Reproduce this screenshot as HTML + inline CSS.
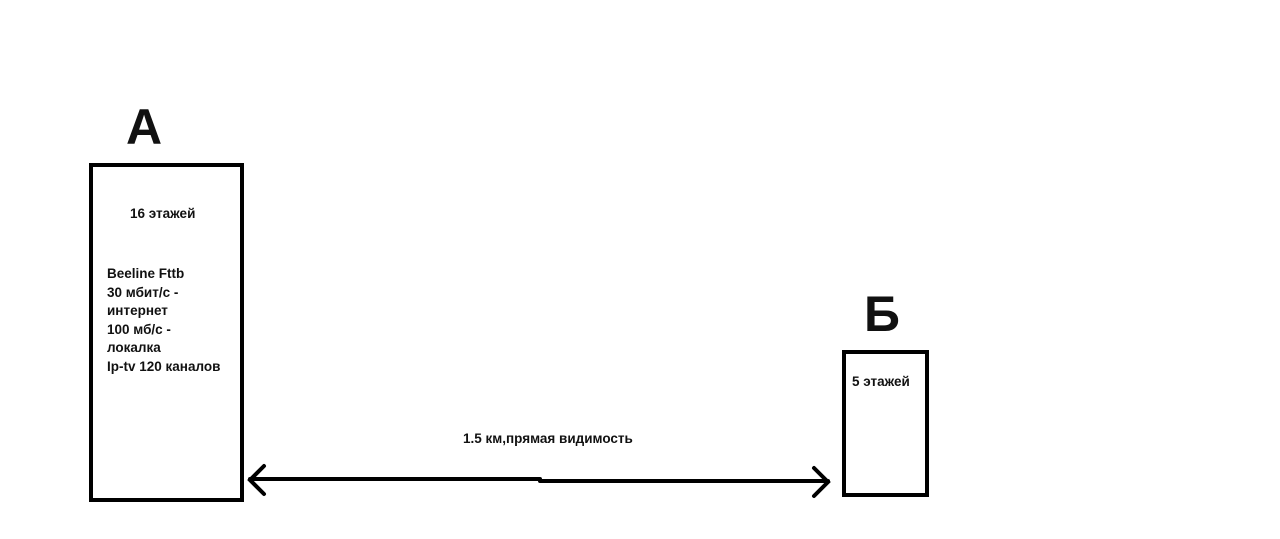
<!DOCTYPE html>
<html><head><meta charset="utf-8"><style>
body{margin:0;width:1280px;height:539px;background:#fff;position:relative;overflow:hidden;font-family:"Liberation Sans","DejaVu Sans",sans-serif;font-weight:bold;color:#111}
.t{position:absolute;font-size:13.5px;white-space:nowrap}
.big{position:absolute;font-size:50px;font-weight:bold;line-height:1}
.box{position:absolute;border:4px solid #000;box-sizing:border-box}
</style></head><body>
<div class="big" style="left:126px;top:102px">А</div>
<div class="big" style="left:864px;top:289px">Б</div>
<div class="box" style="left:89px;top:163px;width:155px;height:339px"></div>
<div class="box" style="left:842px;top:350px;width:87px;height:147px"></div>
<div class="t" style="left:130px;top:206px">16 этажей</div>
<div class="t" style="left:107px;top:265px;line-height:18.5px">Beeline Fttb<br>30 мбит/с -<br>интернет<br>100 мб/с -<br>локалка<br>Ip-tv 120 каналов</div>
<div class="t" style="left:852px;top:374px">5 этажей</div>
<div class="t" style="left:463px;top:431px">1.5 км,прямая видимость</div>
<svg style="position:absolute;left:0;top:0" width="1280" height="539">
<g stroke="#000" stroke-width="4" fill="none" stroke-linecap="round">
<line x1="250" y1="479" x2="540" y2="479"/>
<line x1="540" y1="481" x2="828" y2="481"/>
<polyline points="264,466 250,480 264,494"/>
<polyline points="814,468 828,482 814,496"/>
</g></svg>
</body></html>
